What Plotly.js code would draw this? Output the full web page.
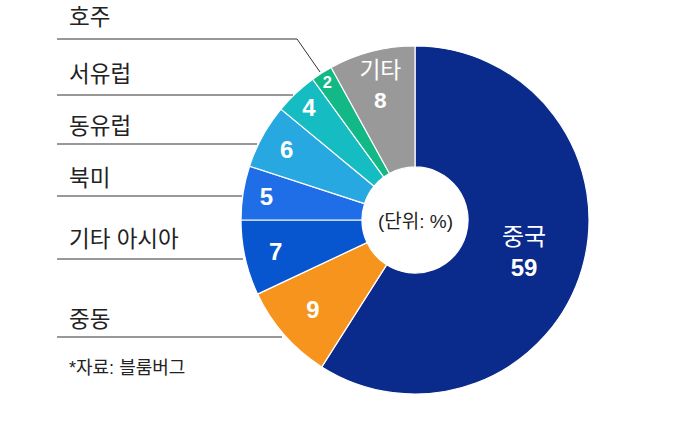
<!DOCTYPE html>
<html><head><meta charset="utf-8">
<script src="https://cdn.plot.ly/plotly-3.0.1.min.js"></script>
<style>html,body{margin:0;padding:0;background:#fff}#chart{width:686px;height:440px}</style>
</head><body><div id="chart"></div>
<script>
const regions = ["중국","중동","기타 아시아","북미","동유럽","서유럽","호주","기타"];
const shares = [59, 9, 7, 5, 6, 4, 2, 8];
const sliceText = ["중국<br><b>59</b>","<b>9</b>","<b>7</b>","<b>5</b>","<b>6</b>","<b>4</b>","<b>2</b>","기타<br><b>8</b>"];
const colors = ["#0a2a8c","#f7941d","#0756cf","#1f6ee8","#27a8e0","#15bcc2","#12b886","#999999"];
const sideLabels = ["호주","서유럽","동유럽","북미","기타 아시아","중동"];
const sourceNote = "*자료: 블룸버그";

const W = 686, H = 440;
const px = x => x / W, py = y => 1 - y / H;
const FONT = "Liberation Sans, Noto Sans CJK KR, sans-serif";

// label layout (pixels): text y, line y, line end x
const labY = [18, 75, 126, 178, 239, 319];
const lineY = [39, 95, 144, 196, 259, 337];
const lineEnd = [297, 293, 257, 242, 243, 282];

const annotations = sideLabels.map((t, i) => ({
  text: t, x: px(67), y: py(labY[i]), xref: "paper", yref: "paper",
  xanchor: "left", yanchor: "middle", showarrow: false,
  font: {family: FONT, size: 22.5, color: "#222"}
}));
annotations.push({text: sourceNote, x: px(67), y: py(368), xref: "paper", yref: "paper",
  xanchor: "left", yanchor: "middle", showarrow: false, font: {family: FONT, size: 18, color: "#222"}});
annotations.push({text: "(단위: %)", x: px(415), y: py(221), xref: "paper", yref: "paper",
  xanchor: "center", yanchor: "middle", showarrow: false, font: {family: FONT, size: 19, color: "#222"}});

const shapes = lineY.map((y, i) => ({
  type: "line", xref: "paper", yref: "paper",
  x0: px(57), x1: px(lineEnd[i]), y0: py(y), y1: py(y),
  line: {color: "#333", width: 1}
}));
shapes.push({type: "line", xref: "paper", yref: "paper", x0: px(297), y0: py(39), x1: px(320), y1: py(72), line: {color: "#333", width: 1}});

const trace = {
  type: "pie", labels: regions, values: shares, text: sliceText,
  textinfo: "text", textposition: "inside", insidetextorientation: "horizontal",
  sort: false, direction: "clockwise", rotation: 0, hole: 0.305,
  marker: {colors: colors, line: {color: "#fff", width: 1.2}},
  insidetextfont: {family: FONT, size: 24, color: "#fff"},
  domain: {x: [px(241), px(589)], y: [py(394), py(46)]},
  showlegend: false, hoverinfo: "label+value"
};

Plotly.newPlot("chart", [trace], {
  width: W, height: H, margin: {l: 0, r: 0, t: 0, b: 0},
  paper_bgcolor: "#fff", showlegend: false,
  annotations: annotations, shapes: shapes
}, {staticPlot: true});
</script></body></html>
